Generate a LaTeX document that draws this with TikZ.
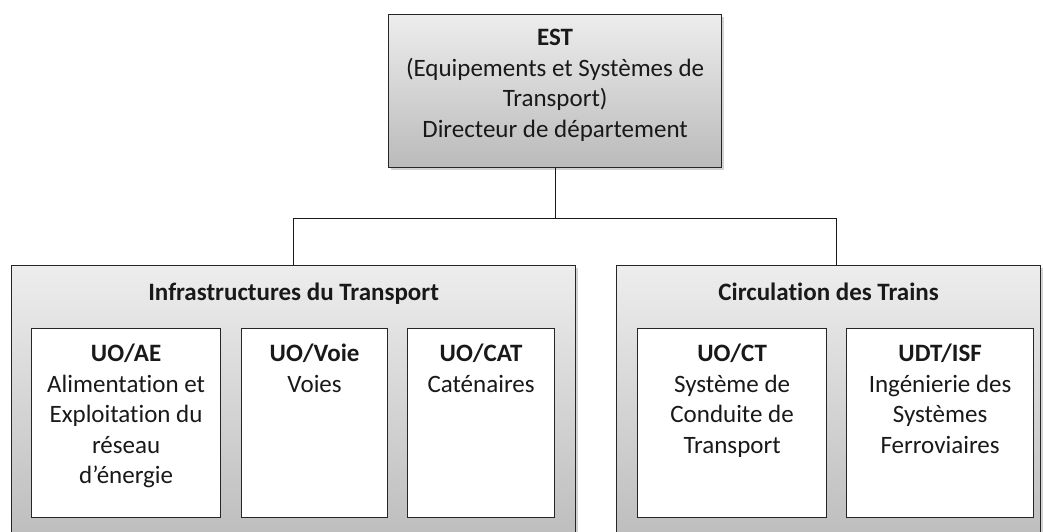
\documentclass[tikz,border=0pt]{standalone}
\usepackage{fontspec}
\setmainfont{Carlito}[Ligatures=NoCommon]
\usetikzlibrary{shadows}

\tikzstyle{boxline}=[draw=black!85,line width=1.2pt,anchor=north west,inner sep=0pt]
\tikzstyle{head}=[boxline,top color=black!7,bottom color=black!27,
  drop shadow={shadow xshift=2pt,shadow yshift=-2pt,opacity=0.35}]
\tikzstyle{unit}=[boxline,fill=white,minimum height=189pt]
\tikzstyle{txt}=[align=center,inner sep=0pt,anchor=north,text=black!90,font=\fontsize{25}{30.5}\selectfont]
\tikzstyle{title}=[txt,font=\fontsize{25}{30.5}\selectfont\bfseries]
\tikzstyle{link}=[draw=black!90,line width=1.2pt]

\begin{document}
\begin{tikzpicture}[x=1pt,y=-1pt]
  \useasboundingbox (0,0) rectangle (1043,531);

  % direction
  \node[head,minimum width=333pt,minimum height=153pt] (est) at (388,14) {};
  \node[txt] (est-t) at ([yshift=-15pt]est.north)
    {\textbf{EST}\\(Equipements et Systèmes de\\Transport)\\Directeur de département};

  % departments
  \node[head,minimum width=564pt,minimum height=290pt] (infra) at (11,265) {};
  \node[title] (infra-t) at ([yshift=-18pt]infra.north) {Infrastructures du Transport};
  \node[head,minimum width=424pt,minimum height=290pt] (circ) at (616,265) {};
  \node[title] (circ-t) at ([yshift=-18pt]circ.north) {Circulation des Trains};

  \coordinate (bus) at ([yshift=-50pt]est.south);
  \draw[link] (est.south) -- (bus);
  \draw[link] (infra.north) |- (bus) -| ([xshift=8pt]circ.north);

  % units
  \node[unit,minimum width=189pt] (ae) at (31,328) {};
  \node[txt] (ae-t) at ([yshift=-16pt]ae.north)
    {\textbf{UO/AE}\\Alimentation et\\Exploitation du\\réseau\\d’énergie};
  \node[unit,minimum width=146pt] (voie) at (241,328) {};
  \node[txt] (voie-t) at ([yshift=-16pt]voie.north) {\textbf{UO/Voie}\\Voies};
  \node[unit,minimum width=147pt] (cat) at (407,328) {};
  \node[txt] (cat-t) at ([yshift=-16pt]cat.north) {\textbf{UO/CAT}\\Caténaires};

  \node[unit,minimum width=189pt] (ct) at (637,328) {};
  \node[txt] (ct-t) at ([yshift=-16pt]ct.north)
    {\textbf{UO/CT}\\Système de\\Conduite de\\Transport};
  \node[unit,minimum width=187pt] (isf) at (846,328) {};
  \node[txt] (isf-t) at ([yshift=-16pt]isf.north)
    {\textbf{UDT/ISF}\\Ingénierie des\\Systèmes\\Ferroviaires};
\end{tikzpicture}
\end{document}
